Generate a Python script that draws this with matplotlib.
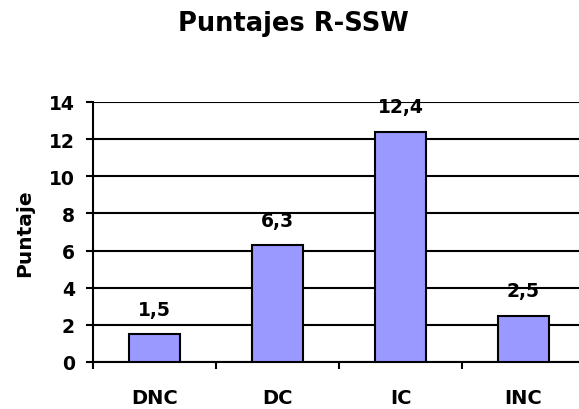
import matplotlib
matplotlib.use("Agg")
from matplotlib import pyplot as plt

categorias = ["DNC", "DC", "IC", "INC"]
puntajes = [1.5, 6.3, 12.4, 2.5]
etiquetas = ["1,5", "6,3", "12,4", "2,5"]
yticks = [0, 2, 4, 6, 8, 10, 12, 14]

plt.rcParams['font.family'] = ['DejaVu Sans']
plt.rcParams['font.weight'] = 'bold'

fig = plt.figure(figsize=(5.79, 4.10), dpi=100)
ax = fig.add_axes([93/579, 47/410, 492/579, 260/410])

x = list(range(len(categorias)))
ax.bar(x, puntajes, width=0.41, color="#9999FF", edgecolor="black", linewidth=1.5, zorder=3)

for xi, v, t in zip(x, puntajes, etiquetas):
    ax.annotate(t, (xi, v), xytext=(0, 14), textcoords="offset points",
                ha="center", va="baseline", fontsize=13.5, fontweight="bold")

ax.set_xlim(-0.5, 3.5)
ax.set_ylim(0, 14)
ax.set_yticks(yticks)
ax.set_yticklabels([str(t) for t in yticks], fontsize=13.5, fontweight="bold")
ax.yaxis.grid(True, color="black", linewidth=1.5, zorder=0)

ax.set_xticks(x)
ax.set_xticklabels(categorias, fontsize=14, fontweight="bold")
ax.tick_params(axis="x", which="major", length=0, pad=19)
ax.set_xticks([-0.5, 0.5, 1.5, 2.5], minor=True)
ax.tick_params(axis="x", which="minor", length=5, width=1.5, direction="out")
ax.tick_params(axis="y", length=5, width=1.5, pad=8)

for s in ["top", "right"]:
    ax.spines[s].set_visible(False)
for s in ["left", "bottom"]:
    ax.spines[s].set_linewidth(1.5)

ax.set_ylabel("Puntaje", fontsize=14.5, fontweight="bold", labelpad=11)

fig.text(293/579, 1 - 24/410, "Puntajes R-SSW", ha="center", va="center",
         fontsize=18.5, fontweight="bold")

fig.savefig("out.png", dpi=100)
